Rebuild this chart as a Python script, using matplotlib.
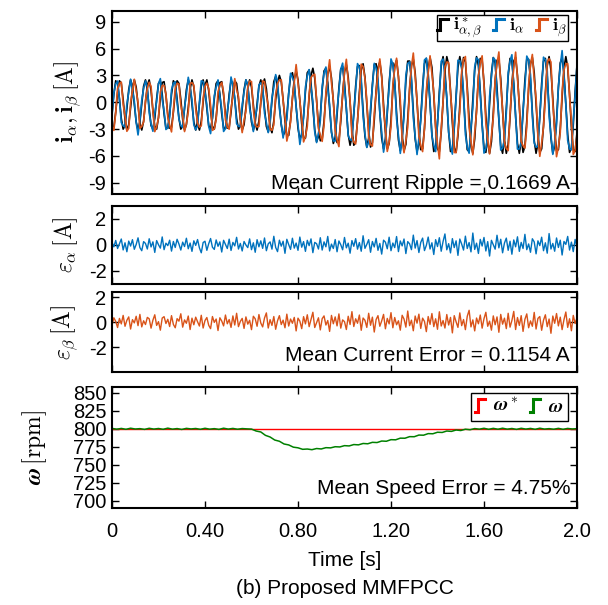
import numpy as np
import matplotlib
matplotlib.use('Agg')
import matplotlib.pyplot as plt
from matplotlib.lines import Line2D
from matplotlib.legend_handler import HandlerBase

plt.rcParams['font.family'] = 'Liberation Sans'
plt.rcParams['mathtext.fontset'] = 'cm'
plt.rcParams['axes.unicode_minus'] = False

# Reference currents i*_alpha, i*_beta [A], sampled every 8 ms from 0 to 2 s
ref_a = [-1.3, 0.9, 2.4, 2.1, 0.4, -1.8, -3.0, -2.6, -0.7, 1.4,
         2.5, 1.8, -0.2, -2.2, -3.1, -2.2, -0.2, 1.8, 2.5, 1.4,
         -0.7, -2.6, -3.0, -1.8, 0.4, 2.1, 2.4, 0.9, -1.3, -2.9,
         -2.9, -1.3, 0.9, 2.4, 2.1, 0.4, -1.8, -3.0, -2.6, -0.7,
         1.4, 2.5, 1.8, -0.2, -2.2, -3.1, -2.2, -0.2, 1.8, 2.5,
         1.4, -0.7, -2.6, -3.0, -1.8, 0.4, 2.1, 2.4, 0.9, -1.3,
         -2.9, -2.9, -1.3, 0.9, 2.4, 2.1, 0.4, -1.8, -3.0, -2.6,
         -0.7, 1.4, 2.5, 1.8, -0.2, -2.2, -3.1, -2.2, -0.2, 1.8,
         2.5, 1.5, -0.7, -2.7, -3.3, -2.1, 0.2, 2.3, 2.9, 1.8,
         -0.3, -2.5, -3.7, -3.3, -1.5, 1.0, 2.9, 3.3, 2.0, -0.4,
         -2.9, -4.1, -3.6, -1.5, 1.2, 3.3, 3.6, 2.1, -0.5, -3.1,
         -4.4, -3.8, -1.5, 1.4, 3.5, 3.8, 2.2, -0.7, -3.3, -4.6,
         -3.9, -1.4, 1.6, 3.7, 4.0, 2.2, -0.8, -3.6, -4.8, -3.9,
         -1.3, 1.8, 4.0, 4.1, 2.2, -0.9, -3.8, -5.0, -4.0, -1.2,
         2.0, 4.2, 4.3, 2.2, -1.1, -4.0, -5.2, -4.1, -1.2, 2.2,
         4.4, 4.4, 2.2, -1.2, -4.2, -5.4, -4.1, -1.1, 2.4, 4.6,
         4.6, 2.4, -1.0, -4.1, -5.5, -4.6, -1.8, 1.7, 4.3, 4.9,
         3.2, -0.2, -3.6, -5.5, -5.1, -2.4, 1.2, 4.1, 5.1, 3.6,
         0.3, -3.3, -5.5, -5.3, -2.9, 0.7, 3.9, 5.1, 3.9, 0.7,
         -2.9, -5.3, -5.5, -3.3, 0.3, 3.6, 5.1, 4.1, 1.2, -2.5,
         -5.1, -5.6, -3.6, -0.2, 3.2, 5.0, 4.4, 1.6, -2.0, -4.9,
         -5.7, -4.0, -0.7, 2.9, 4.9, 4.6, 2.1, -1.6, -4.6, -5.7,
         -4.3, -1.1, 2.5, 4.8, 4.8, 2.5, -1.1, -4.3, -5.7, -4.6,
         -1.6, 2.1, 4.6, 4.9, 2.9, -0.7, -4.0, -5.7, -4.9, -2.0,
         1.6, 4.4, 5.0, 3.2, -0.2, -3.6, -5.6, -5.1, -2.5, 1.2, 4.1]
ref_b = [-2.9, -2.8, -1.1, 1.1, 2.4, 2.1, 0.3, -1.9, -3.1, -2.5,
         -0.6, 1.5, 2.5, 1.7, -0.3, -2.3, -3.1, -2.1, 0.0, 1.9,
         2.5, 1.3, -0.9, -2.7, -3.0, -1.7, 0.5, 2.2, 2.3, 0.8,
         -1.4, -2.9, -2.8, -1.1, 1.1, 2.4, 2.1, 0.3, -1.9, -3.1,
         -2.5, -0.6, 1.5, 2.5, 1.7, -0.3, -2.3, -3.1, -2.1, 0.0,
         1.9, 2.5, 1.3, -0.9, -2.7, -3.0, -1.7, 0.5, 2.2, 2.3,
         0.8, -1.4, -2.9, -2.8, -1.1, 1.1, 2.4, 2.1, 0.3, -1.9,
         -3.1, -2.5, -0.6, 1.5, 2.5, 1.7, -0.3, -2.3, -3.1, -2.1,
         0.0, 2.0, 2.6, 1.5, -0.8, -2.8, -3.4, -2.1, 0.3, 2.2,
         3.0, 2.3, 0.3, -2.1, -3.7, -3.7, -2.0, 0.4, 2.6, 3.5,
         2.5, 0.2, -2.4, -4.0, -4.0, -2.1, 0.6, 3.0, 3.8, 2.7,
         0.2, -2.6, -4.3, -4.1, -2.1, 0.8, 3.2, 4.0, 2.7, 0.1,
         -2.8, -4.5, -4.3, -2.1, 0.9, 3.4, 4.2, 2.8, 0.0, -3.0,
         -4.8, -4.4, -2.1, 1.1, 3.6, 4.3, 2.8, -0.2, -3.2, -5.0,
         -4.5, -2.0, 1.3, 3.9, 4.5, 2.9, -0.3, -3.4, -5.2, -4.6,
         -2.0, 1.5, 4.1, 4.7, 2.9, -0.4, -3.7, -5.4, -4.7, -1.9,
         1.4, 4.1, 4.8, 3.3, 0.1, -3.2, -5.3, -5.2, -2.9, 0.6,
         3.7, 5.0, 3.9, 0.8, -2.7, -5.2, -5.5, -3.3, 0.2, 3.5,
         5.1, 4.2, 1.3, -2.3, -5.1, -5.6, -3.7, -0.3, 3.1, 5.0,
         4.5, 1.7, -1.9, -4.8, -5.7, -4.1, -0.8, 2.8, 4.9, 4.7,
         2.2, -1.5, -4.5, -5.7, -4.4, -1.2, 2.4, 4.7, 4.8, 2.6,
         -1.0, -4.2, -5.7, -4.7, -1.7, 2.0, 4.6, 5.0, 3.0, -0.5,
         -3.9, -5.6, -4.9, -2.1, 1.5, 4.3, 5.0, 3.3, -0.1, -3.6,
         -5.6, -5.2, -2.6, 1.1, 4.1, 5.1, 3.6, 0.4, -3.2, -5.4,
         -5.3, -3.0, 0.6, 3.8, 5.1, 3.9, 0.9, -2.8, -5.3, -5.5, -3.4]

# Tracking errors eps_alpha, eps_beta [A] on the same time grid
err_a = [0.21, -0.14, 0.35, -0.27, 0.09, 0.46, -0.38, 0.17, -0.52, 0.30,
         -0.08, 0.41, -0.33, 0.04, 0.55, -0.20, -0.44, 0.26, 0.12, -0.31,
         0.48, -0.15, 0.24, -0.57, 0.34, 0.02, -0.24, 0.62, -0.36, 0.14,
         -0.05, 0.37, -0.47, 0.27, -0.19, 0.44, 0.07, -0.39, 0.22, -0.12,
         0.52, -0.29, 0.15, -0.49, 0.32, -0.03, 0.42, -0.22, -0.60, 0.19,
         0.29, -0.41, 0.10, 0.50, -0.17, -0.34, 0.39, -0.10, 0.24, -0.54,
         0.36, 0.05, -0.27, 0.45, -0.42, 0.20, -0.07, 0.59, -0.31, 0.12,
         -0.46, 0.27, 0.00, -0.20, 0.47, -0.36, 0.17, -0.56, 0.41, -0.14,
         0.32, -0.26, 0.54, -0.44, 0.09, 0.24, -0.32, 0.67, -0.19, -0.51,
         0.37, -0.09, 0.29, -0.64, 0.44, 0.03, -0.34, 0.52, -0.24, 0.15,
         -0.41, 0.61, -0.17, 0.26, -0.49, 0.36, -0.05, 0.47, -0.59, 0.20,
         0.10, -0.31, 0.56, -0.39, 0.24, -0.14, 0.66, -0.46, 0.07, -0.27,
         0.42, -0.52, 0.31, 0.02, -0.37, 0.58, -0.22, 0.14, -0.63, 0.34,
         -0.10, 0.49, -0.32, 0.19, -0.48, 0.71, -0.26, 0.05, 0.41, -0.56,
         0.27, -0.15, 0.51, -0.41, 0.12, -0.70, 0.37, 0.22, -0.29, 0.60,
         -0.44, 0.15, -0.20, 0.65, -0.51, 0.31, -0.07, 0.46, -0.66, 0.26,
         0.09, -0.36, 0.76, -0.24, 0.34, -0.58, 0.20, 0.53, -0.43, -0.03,
         0.61, -0.31, 0.17, -0.73, 0.41, -0.12, 0.56, -0.48, 0.27, 0.85,
         -0.37, 0.10, -0.61, 0.49, -0.20, 0.32, -0.80, 0.46, 0.07, -0.39,
         0.68, -0.27, 0.19, -0.53, 0.92, -0.34, 0.14, -0.65, 0.43, -0.08,
         0.58, -0.46, 0.26, -0.85, 0.36, 0.03, -0.32, 0.75, -0.22, 0.44,
         -0.60, 0.15, 0.53, -0.41, 0.29, -0.71, 0.39, -0.14, 0.63, -0.49,
         0.20, -0.27, 0.82, -0.36, 0.08, -0.56, 0.48, 0.24, -0.68, 0.32,
         -0.05, 0.60, -0.44, 0.17, -0.63, 0.88, -0.31, 0.12, -0.48, 0.54,
         -0.19, 0.37, -0.77, 0.27, 0.05, 0.66, -0.39, 0.22, -0.51, 0.43, -0.15]
err_b = [-0.24, 0.34, 0.05, -0.44, 0.29, -0.15, 0.53, -0.34, 0.14, 0.41,
         -0.56, 0.19, -0.07, 0.46, -0.29, 0.61, -0.39, 0.10, -0.20, 0.37,
         0.26, -0.49, 0.15, 0.58, -0.27, 0.03, -0.65, 0.32, 0.43, -0.12,
         0.22, -0.36, 0.51, -0.19, -0.46, 0.27, 0.07, 0.66, -0.41, 0.17,
         -0.10, 0.48, -0.60, 0.31, -0.22, 0.39, 0.02, -0.32, 0.54, -0.48,
         0.12, 0.36, -0.26, -0.53, 0.44, -0.03, 0.24, -0.68, 0.34, 0.08,
         -0.31, 0.56, -0.14, 0.20, -0.43, 0.49, -0.24, 0.70, -0.37, 0.05,
         0.29, -0.51, 0.41, -0.17, 0.14, -0.61, 0.46, 0.26, -0.34, 0.60,
         -0.08, -0.39, 0.32, 0.73, -0.48, 0.19, -0.27, 0.44, -0.58, 0.10,
         0.51, -0.20, 0.15, -0.46, 0.63, -0.32, 0.24, -0.10, 0.37, -0.71,
         0.31, 0.07, -0.53, 0.43, -0.15, 0.58, -0.37, 0.22, 0.78, -0.44,
         -0.05, 0.34, -0.63, 0.27, 0.49, -0.24, 0.12, -0.75, 0.53, -0.14,
         0.41, -0.31, 0.65, -0.49, 0.17, 0.03, -0.60, 0.46, -0.20, 0.83,
         -0.36, 0.26, -0.10, 0.56, -0.66, 0.32, 0.14, -0.43, 0.70, -0.26,
         0.39, -0.80, 0.20, 0.51, -0.34, 0.09, 0.61, -0.54, 0.29, -0.15,
         0.75, -0.46, 0.36, -0.22, 0.10, -0.65, 0.54, 0.24, -0.41, 0.88,
         -0.29, 0.15, -0.70, 0.48, -0.09, 0.63, -0.51, 0.31, 0.05, -0.77,
         0.44, -0.19, 0.68, -0.37, 0.26, -0.58, 0.82, -0.32, 0.12, -0.48,
         0.60, -0.24, 0.37, -0.87, 0.51, 0.02, -0.43, 0.73, -0.29, 0.20,
         -0.61, 0.46, 0.94, -0.39, 0.17, -0.71, 0.32, -0.14, 0.56, -0.49,
         0.27, 0.78, -0.34, 0.07, -0.65, 0.49, -0.22, 0.41, -0.82, 0.61,
         -0.17, 0.31, -0.53, 0.70, -0.41, 0.12, 0.85, -0.60, 0.36, -0.27,
         0.51, -0.75, 0.22, 0.65, -0.46, 0.09, -0.34, 0.77, -0.56, 0.29,
         0.44, -0.66, 0.15, 0.58, -0.37, 0.24, -0.90, 0.48, -0.10, 0.68,
         -0.31, 0.39, -0.61, 0.19, 0.80, -0.43, 0.26, -0.70, 0.53, -0.12, 0.34]

# Rotor speed [rpm], sampled every 20 ms
speed_ref = 800
speed = [800.6, 799.4, 800.5, 799.3, 800.8, 799.7, 800.2, 799.2, 800.7, 799.6,
         800.4, 799.3, 800.9, 799.5, 800.3, 799.1, 800.6, 799.8, 800.4, 799.3,
         800.7, 799.5, 800.2, 799.2, 800.8, 799.6, 800.5, 799.4, 800.3, 799.9,
         799.6, 796.9, 795.6, 790.9, 788.6, 784.4, 782.7, 778.9, 777.6, 774.5,
         773.6, 771.5, 771.9, 771.0, 772.6, 772.0, 773.8, 773.5, 775.1, 774.8,
         776.6, 776.2, 778.1, 777.7, 779.6, 779.2, 781.2, 780.9, 783.0, 782.7,
         784.9, 784.7, 787.0, 786.9, 789.1, 789.0, 791.3, 791.1, 793.3, 793.1,
         795.2, 794.9, 796.9, 796.4, 798.3, 797.6, 799.4, 798.7, 800.3, 799.5,
         800.7, 799.3, 800.6, 799.4, 800.8, 799.5, 800.4, 799.2, 800.7, 799.6,
         800.5, 799.3, 800.8, 799.6, 800.2, 799.4, 800.6, 799.3, 800.5, 799.7, 800.2]

time_ticks = [0, 0.4, 0.8, 1.2, 1.6, 2.0]
time_labels = ['0', '0.40', '0.80', '1.20', '1.60', '2.0']

ref_a = np.array(ref_a)
ref_b = np.array(ref_b)
err_a = np.array(err_a)
err_b = np.array(err_b)
t = np.linspace(0, 2, len(ref_a))
t_spd = np.linspace(0, 2, len(speed))
# measured currents: i = i* - eps
i_a = ref_a - err_a
i_b = ref_b - err_b

c_blue = '#0072BD'
c_orange = '#D95319'


class StepHandler(HandlerBase):
    def create_artists(self, legend, orig_handle, xdescent, ydescent,
                       width, height, fontsize, trans):
        x0 = -xdescent
        y0 = -ydescent
        xm = x0 + 0.3 * width
        line = Line2D([x0, xm, xm, x0 + width],
                      [y0 + 0.05 * height, y0 + 0.05 * height,
                       y0 + 0.95 * height, y0 + 0.95 * height],
                      color=orig_handle.get_color(), lw=2.2,
                      solid_joinstyle='miter')
        line.set_transform(trans)
        return [line]


fig = plt.figure(figsize=(6.08, 6.05), dpi=100)
L, W = 0.1842, 0.7648
ax1 = fig.add_axes([L, 0.6793, W, 0.3033])
ax2 = fig.add_axes([L, 0.5306, W, 0.1289])
ax3 = fig.add_axes([L, 0.3851, W, 0.1322])
ax4 = fig.add_axes([L, 0.1603, W, 0.2000])

for ax in (ax1, ax2, ax3, ax4):
    ax.set_xlim(0, 2)
    ax.set_xticks(time_ticks)
    ax.tick_params(direction='in', top=True, right=True, length=5,
                   width=1, labelsize=14.5, pad=4)
    for sp in ax.spines.values():
        sp.set_linewidth(1.5)
    if ax is not ax4:
        ax.set_xticklabels([])

# currents
h_ref, = ax1.plot(t, ref_a, color='k', lw=1.2)
ax1.plot(t, ref_b, color='k', lw=1.2)
h_a, = ax1.plot(t, i_a, color=c_blue, lw=1.2)
h_b, = ax1.plot(t, i_b, color=c_orange, lw=1.2)
ax1.set_ylim(-10.25, 10.25)
ax1.set_yticks([-9, -6, -3, 0, 3, 6, 9])
ax1.set_ylabel(r'$\mathbf{i}_\alpha,\mathbf{i}_\beta\,[\mathrm{A}]$',
               fontsize=17, labelpad=4)
ax1.text(0.985, 0.03, 'Mean Current Ripple = 0.1669 A', transform=ax1.transAxes,
         ha='right', va='baseline', fontsize=15)
leg1 = ax1.legend([h_ref, h_a, h_b],
                  [r'$\mathbf{i}^*_{\alpha,\beta}$', r'$\mathbf{i}_\alpha$',
                   r'$\mathbf{i}_\beta$'],
                  handler_map={Line2D: StepHandler()}, ncol=3,
                  loc='upper right', bbox_to_anchor=(0.98, 0.976),
                  borderaxespad=0, fontsize=13, frameon=True, fancybox=False,
                  edgecolor='k', framealpha=1, handlelength=0.6,
                  handleheight=0.7, handletextpad=0.3, columnspacing=0.6,
                  borderpad=0.02)
leg1.get_frame().set_linewidth(1.0)

# errors
ax2.plot(t, err_a, color=c_blue, lw=1.0)
ax2.set_ylim(-3, 3)
ax2.set_yticks([-2, 0, 2])
ax2.set_ylabel(r'$\varepsilon_\alpha\,[\mathrm{A}]$', fontsize=17, labelpad=6)

ax3.plot(t, err_b, color=c_orange, lw=1.0)
ax3.set_ylim(-4, 2.4)
ax3.set_yticks([-2, 0, 2])
ax3.set_ylabel(r'$\varepsilon_\beta\,[\mathrm{A}]$', fontsize=17, labelpad=6)
ax3.text(0.985, 0.21, 'Mean Current Error = 0.1154 A', transform=ax3.transAxes,
         ha='right', va='center', fontsize=15)

# speed
h_wr, = ax4.plot(t_spd[[0, -1]], [speed_ref, speed_ref], color='#FF0000', lw=1.0)
h_w, = ax4.plot(t_spd, speed, color='#008000', lw=1.1)
ax4.set_ylim(690, 858)
ax4.set_yticks([700, 725, 750, 775, 800, 825, 850])
ax4.set_ylabel(r'$\boldsymbol{\omega}\,[\mathrm{rpm}]$', fontsize=17, labelpad=17)
ax4.text(0.985, 0.165, 'Mean Speed Error = 4.75%', transform=ax4.transAxes,
         ha='right', va='center', fontsize=15)
leg2 = ax4.legend([h_wr, h_w],
                  [r'$\boldsymbol{\omega}^*$', r'$\boldsymbol{\omega}$'],
                  handler_map={Line2D: StepHandler()}, ncol=2,
                  loc='upper right', bbox_to_anchor=(0.98, 0.95),
                  borderaxespad=0, fontsize=14, frameon=True, fancybox=False,
                  edgecolor='k', framealpha=1, handlelength=0.5,
                  handleheight=0.8, handletextpad=0.4, columnspacing=0.6,
                  borderpad=0.25)
leg2.get_frame().set_linewidth(1.0)

ax4.set_xticklabels(time_labels)
ax4.tick_params(axis='x', pad=10)
ax4.set_xlabel('Time [s]', fontsize=15, labelpad=7)
fig.text(0.567, 0.028, '(b) Proposed MMFPCC', ha='center', va='center', fontsize=15)

fig.savefig('out.png', dpi=100)
